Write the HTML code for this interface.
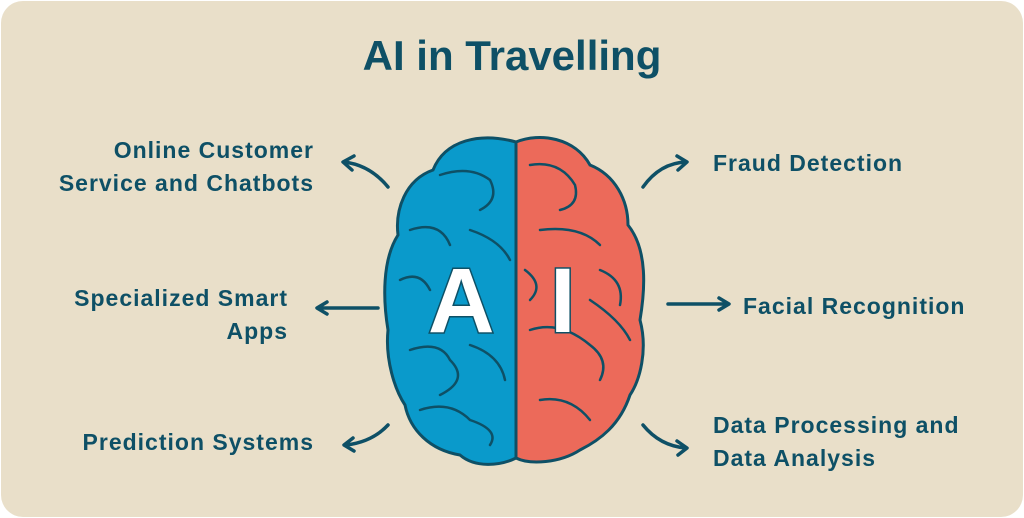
<!DOCTYPE html>
<html><head><style>
html,body{margin:0;padding:0;background:#fff;}
.c{position:relative;width:1024px;height:518px;overflow:hidden;font-family:"Liberation Sans",sans-serif;}
.bg{position:absolute;left:1px;top:1px;width:1022px;height:516px;background:#e9dfc9;border-radius:22px;}
.t{position:absolute;color:#0e5066;font-weight:bold;font-size:23px;line-height:33px;letter-spacing:1px;}
h1{position:absolute;margin:0;top:32px;left:0;width:1024px;text-align:center;color:#0e5066;font-size:42px;font-weight:bold;}
</style></head><body><div class="c">
<div class="bg"></div>
<h1>AI in Travelling</h1>
<div class="t" style="right:710px;top:134px;text-align:right">Online Customer<br>Service and Chatbots</div>
<div class="t" style="right:736px;top:282px;text-align:right">Specialized Smart<br>Apps</div>
<div class="t" style="right:710px;top:426px;text-align:right">Prediction Systems</div>
<div class="t" style="left:713px;top:147px">Fraud Detection</div>
<div class="t" style="left:743px;top:290px">Facial Recognition</div>
<div class="t" style="left:713px;top:409px">Data Processing and<br>Data Analysis</div>
<svg width="1024" height="518" style="position:absolute;left:0;top:0">
<g fill="none" stroke="#0e5066" stroke-width="3.5" stroke-linecap="round" stroke-linejoin="round">
<path d="M388 187 Q370 165 344 162 M354 156 L343 162 L352 170"/>
<path d="M378 308 L318 308 M327 302 L317 308 L327 314"/>
<path d="M388 425 Q372 442 346 445 M353 438 L344 445 L354 451"/>
<path d="M643 187 Q660 163 686 162 M677 156 L687 162 L678 170"/>
<path d="M668 304 L728 304 M719 298 L729 304 L719 310"/>
<path d="M643 425 Q660 446 686 448 M677 441 L687 448 L678 455"/>
</g>
<path d="M516 142 C480 132 445 140 433 170 C405 180 395 210 398 235 C382 260 383 300 388 330 C385 360 395 390 405 405 C410 430 430 450 460 455 C475 468 500 466 516 458 Z" fill="#0a9acb" stroke="#0e5066" stroke-width="3"/>
<path d="M516 142 C540 132 575 138 590 165 C615 175 628 200 628 225 C648 250 645 290 640 320 C648 350 640 380 630 395 C620 425 600 440 580 450 C560 463 530 465 516 458 Z" fill="#ec6a5a" stroke="#0e5066" stroke-width="3"/>
<g fill="none" stroke="#0e5066" stroke-width="2.5" stroke-linecap="round">
<path d="M440 175 Q470 165 490 180 Q500 200 480 210"/><path d="M410 230 Q440 220 450 245"/><path d="M400 280 Q420 270 430 290"/><path d="M410 350 Q440 340 450 360 Q470 380 440 395"/><path d="M420 410 Q450 400 470 420 Q500 430 490 445"/><path d="M470 230 Q500 240 510 260"/><path d="M470 345 Q500 355 505 380"/>
<path d="M530 165 Q560 160 575 185 Q580 205 560 210"/><path d="M540 230 Q580 225 600 245"/><path d="M600 270 Q625 280 620 305"/><path d="M530 330 Q560 320 590 345 Q610 360 600 380"/><path d="M540 400 Q570 395 590 420"/><path d="M525 270 Q545 285 530 300"/><path d="M590 300 Q620 320 630 340"/>
</g>
<g font-family="Liberation Sans,sans-serif" font-weight="bold" font-size="92" fill="#fff" stroke="#0e5066" stroke-width="3" paint-order="stroke">
<text x="428" y="332">A</text><text x="550" y="332">I</text>
</g>
</svg>
</div></body></html>
